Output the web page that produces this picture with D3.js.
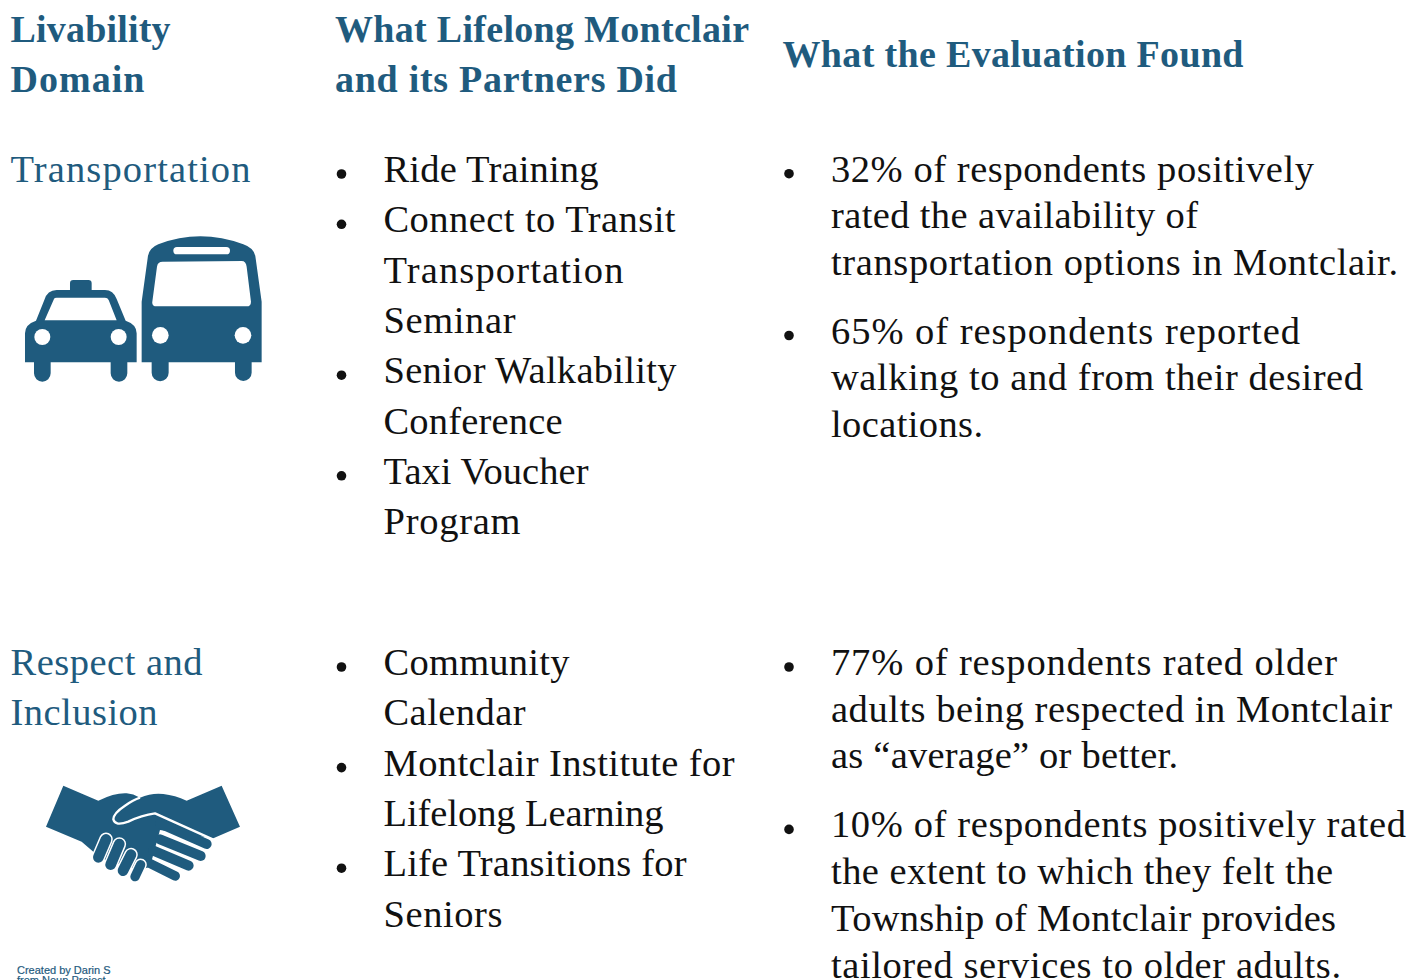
<!DOCTYPE html>
<html>
<head>
<meta charset="utf-8">
<script src="https://cdn.jsdelivr.net/npm/d3@7"></script>
<style>
  html, body { margin: 0; padding: 0; background: #fff; overflow: hidden; }
  text { font-family: "Liberation Serif", serif; }
</style>
</head>
<body>
<svg id="table"></svg>
<script>
const W = 1411
const H = 980
const blue = '#1f5b7e'
const ink = '#111111'

const headers = [
  ['Livability', 'Domain'],
  ['What Lifelong Montclair', 'and its Partners Did'],
  ['What the Evaluation Found']
]
const domainTransport = ['Transportation']
const domainRespect = ['Respect and', 'Inclusion']

const didTransport = [
  ['Ride Training'],
  ['Connect to Transit', 'Transportation', 'Seminar'],
  ['Senior Walkability', 'Conference'],
  ['Taxi Voucher', 'Program']
]
const didRespect = [
  ['Community', 'Calendar'],
  ['Montclair Institute for', 'Lifelong Learning'],
  ['Life Transitions for', 'Seniors']
]
const foundTransport = [
  ['32% of respondents positively', 'rated the availability of', 'transportation options in Montclair.'],
  ['65% of respondents reported', 'walking to and from their desired', 'locations.']
]
const foundRespect = [
  ['77% of respondents rated older', 'adults being respected in Montclair', 'as \u201caverage\u201d or better.'],
  ['10% of respondents positively rated', 'the extent to which they felt the', 'Township of Montclair provides', 'tailored services to older adults.']
]
const credit = ['Created by Darin S', 'from Noun Project']

// line widths, the original font is a bit wider than Liberation Serif
const fit = {
  'Livability': 160, 'Domain': 134, 'What Lifelong Montclair': 414, 'and its Partners Did': 342,
  'What the Evaluation Found': 461, 'Transportation': 240, 'Respect and': 192, 'Inclusion': 147,
  'Ride Training': 215, 'Connect to Transit': 292, 'Seminar': 132, 'Senior Walkability': 293,
  'Conference': 179, 'Taxi Voucher': 205, 'Program': 137, 'Community': 186, 'Calendar': 142,
  'Montclair Institute for': 351, 'Lifelong Learning': 280, 'Life Transitions for': 303, 'Seniors': 119,
  '32% of respondents positively': 483, 'rated the availability of': 367,
  'transportation options in Montclair.': 567, '65% of respondents reported': 469,
  'walking to and from their desired': 532, 'locations.': 152,
  '77% of respondents rated older': 506, 'adults being respected in Montclair': 561,
  'as \u201caverage\u201d or better.': 347, '10% of respondents positively rated': 575,
  'the extent to which they felt the': 502, 'Township of Montclair provides': 505,
  'tailored services to older adults.': 510
}

const svg = d3.select('svg#table').attr('width', W).attr('height', H)
  .style('display', 'block')

const colDomain = 10.5
const colDid = 335
const colFound = 782
const indent = 48.5
const bodySize = 38.5
const headSize = 38

function lines(x, y, rows, step, size, color, weight) {
  svg.append('g').selectAll('text')
    .data(rows)
    .join('text')
    .attr('x', x)
    .attr('y', (d, i) => y + i * step)
    .attr('font-size', size)
    .attr('font-weight', weight || 'normal')
    .attr('fill', color)
    .attr('textLength', d => fit[d])
    .attr('lengthAdjust', 'spacing')
    .text(d => d)
}

// bullets list: each item wraps on its own, gap is extra space between items
function bullets(x, y, items, step, gap) {
  var cy = y
  items.forEach(function(item) {
    svg.append('circle')
      .attr('cx', x + 6.5)
      .attr('cy', cy - 8)
      .attr('r', 4.8)
      .attr('fill', ink)
    lines(x + indent, cy, item, step, bodySize, ink)
    cy += item.length * step + gap
  })
}

lines(colDomain, 42, headers[0], 50, headSize, blue, 'bold')
lines(colDid, 42, headers[1], 50, headSize, blue, 'bold')
lines(colFound + 0.5, 67, headers[2], 50, headSize, blue, 'bold')

lines(colDomain, 182, domainTransport, 50, bodySize, blue)
lines(colDomain, 675, domainRespect, 50, bodySize, blue)

bullets(colDid, 182, didTransport, 50.3, 0)
bullets(colDid, 675, didRespect, 50.3, 0)
bullets(colFound + 0.5, 181.7, foundTransport, 46.6, 22)
bullets(colFound + 0.5, 675, foundRespect, 46.7, 22.3)

// taxi and bus icon, drawn at 3x and scaled down
const bus = svg.append('g').attr('transform', 'translate(10,225) scale(0.3333)').attr('fill', blue)
bus.append('path').attr('fill-rule', 'evenodd').attr('d',
  'M395,412 L395,230 L413,100 Q415,70 445,58 Q570,10 700,58 Q735,70 737,100 L755,230 L755,412 L725,412 L725,443 A25,25 0 0 1 675,443 L675,412 L476,412 L476,443 A25,25 0 0 1 425,443 L425,412 Z ' +
  'M458,110 L695,108 Q708,108 710,125 L723,230 Q723,244 710,244 L440,244 Q425,244 427,230 L441,125 Q443,110 458,110 Z')
bus.append('path').attr('d',
  'M45,412 L45,325 Q45,298 78,287 L103,225 Q112,195 140,195 L180,195 L180,175 Q180,165 190,165 L235,165 Q245,165 245,175 L245,195 L285,195 Q310,195 320,222 L347,287 Q380,298 380,325 L380,412 L352,412 L352,445 A25,25 0 0 1 302,445 L302,412 L122,412 L122,445 A25,25 0 0 1 72,445 L72,412 Z')
bus.append('path').attr('fill', '#fff').attr('d',
  'M104,286 L132,222 Q133,218 140,218 L285,218 Q293,218 296,225 L320,286 Z')
bus.append('rect').attr('x', 490).attr('y', 66).attr('width', 170).attr('height', 22).attr('rx', 11).attr('fill', '#fff')
const lights = [[97, 336, 24], [326, 336, 24], [451, 331, 25], [699, 331, 25]]
bus.selectAll('circle').data(lights).join('circle')
  .attr('cx', d => d[0]).attr('cy', d => d[1]).attr('r', d => d[2]).attr('fill', '#fff')

// handshake icon, same idea
const hands = svg.append('g').attr('transform', 'translate(0,770) scale(0.3333)')
hands.append('path').attr('fill', blue).attr('d',
  'M190,47 L295,92 Q345,68 380,70 Q400,71 420,83 Q455,68 490,72 Q525,76 560,92 L665,47 L720,170 L640,205 L480,180 L450,290 L420,300 L300,265 L280,245 L245,215 L138,170 Z')
const fingers = [
  [480, 160, 620, 222, 30],
  [480, 208, 602, 258, 30],
  [460, 242, 566, 287, 30],
  [445, 278, 526, 318, 28]
]
hands.selectAll('line.finger').data(fingers).join('line')
  .attr('class', 'finger')
  .attr('x1', d => d[0]).attr('y1', d => d[1]).attr('x2', d => d[2]).attr('y2', d => d[3])
  .attr('stroke', blue).attr('stroke-width', d => d[4]).attr('stroke-linecap', 'round')
hands.append('path').attr('fill', 'none').attr('stroke', '#fff').attr('stroke-width', 7)
  .attr('stroke-linejoin', 'round')
  .attr('d', 'M640,209 L465,130 Q425,135 385,155 Q345,170 340,148 Q340,130 375,107 Q400,90 420,83')
const thumbs = [
  [318, 208, 295, 262, 32],
  [358, 222, 332, 284, 32],
  [393, 254, 369, 302, 32],
  [422, 284, 405, 320, 28]
]
hands.selectAll('line.out').data(thumbs).join('line')
  .attr('class', 'out')
  .attr('x1', d => d[0]).attr('y1', d => d[1]).attr('x2', d => d[2]).attr('y2', d => d[3])
  .attr('stroke', '#fff').attr('stroke-width', d => d[4] + 9).attr('stroke-linecap', 'round')
hands.selectAll('line.in').data(thumbs).join('line')
  .attr('class', 'in')
  .attr('x1', d => d[0]).attr('y1', d => d[1]).attr('x2', d => d[2]).attr('y2', d => d[3])
  .attr('stroke', blue).attr('stroke-width', d => d[4]).attr('stroke-linecap', 'round')

svg.append('g').selectAll('text')
  .data(credit)
  .join('text')
  .attr('x', 17)
  .attr('y', (d, i) => 974 + i * 10)
  .attr('font-size', 11)
  .attr('fill', blue)
  .attr('stroke', blue)
  .attr('stroke-width', 0.2)
  .style('font-family', '"Liberation Sans", sans-serif')
  .text(d => d)
</script>
</body>
</html>
